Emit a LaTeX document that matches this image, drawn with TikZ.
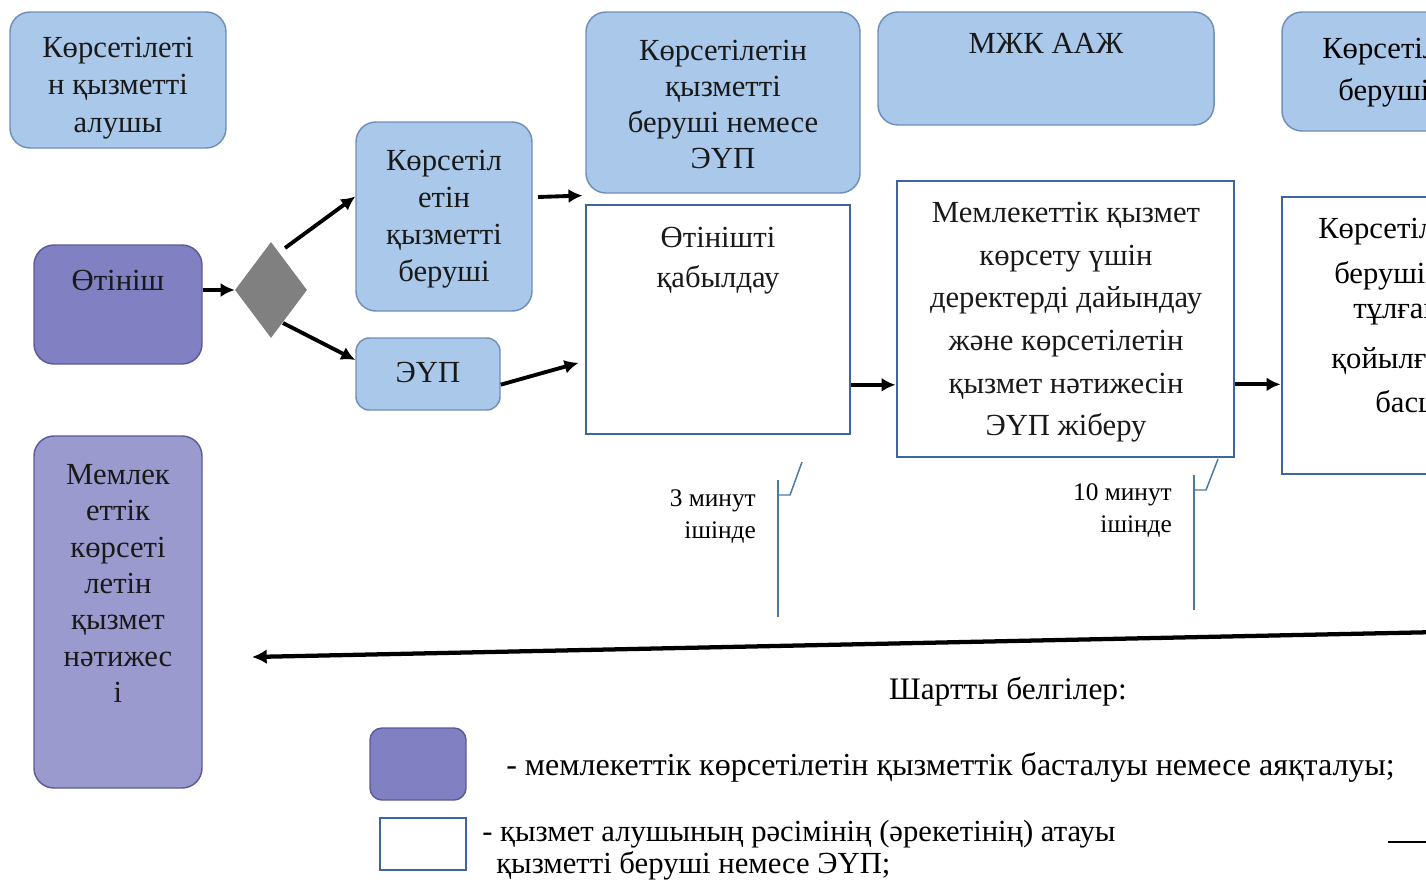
\documentclass[tikz,border=0pt]{standalone}
\usepackage{fontspec}
\setmainfont{Liberation Serif}
\usetikzlibrary{fit,arrows.meta,shapes.geometric}
\definecolor{lanef}{HTML}{A9C8EA}
\definecolor{laneb}{HTML}{6F8FB8}
\definecolor{startf}{HTML}{8080C2}
\definecolor{startb}{HTML}{5B5B9B}
\definecolor{resf}{HTML}{9A9ACE}
\definecolor{stepb}{HTML}{3F65A0}
\definecolor{tl}{HTML}{4A78A8}
\definecolor{dgray}{HTML}{808080}
\begin{document}
\begin{tikzpicture}[x=0.75pt,y=-0.75pt,
  lane/.style={draw=laneb,fill=lanef,line width=1.1pt,rounded corners=15pt,inner sep=0},
  startbox/.style={draw=startb,fill=startf,line width=1.1pt,rounded corners=15pt,inner sep=0},
  resbox/.style={draw=startb,fill=resf,line width=1.1pt,rounded corners=15pt,inner sep=0},
  stepbox/.style={draw=stepb,fill=white,line width=2.2pt,inner sep=0},
  txt/.style={inner sep=0,align=center,anchor=north,text=black!90},
  big/.style={font=\fontsize{23}{28}\selectfont},
  small/.style={font=\fontsize{19}{24}\selectfont},
  arr/.style={line width=2.9pt,-{Latex[length=10.5pt,width=10.5pt]}},
  tline/.style={draw=tl,line width=1.1pt}
]
\useasboundingbox (0,0) rectangle (1426,882);
\clip (0,0) rectangle (1426,882);

% lane headers
\node[lane,fit={(10,12)(226,148)}] (A) {};
\node[txt,big] (At) at (118,37) {Көрсетілеті\\н қызметті\\алушы};
\node[lane,fit={(586,12)(860,193)}] (B) {};
\node[txt,big,font=\fontsize{23}{27}\selectfont] (Bt) at (723,40) {Көрсетілетін\\қызметті\\беруші немесе\\ЭҮП};
\node[lane,fit={(878,12)(1214,125)}] (C) {};
\node[txt,big] (Ct) at (1046,33) {МЖК ААЖ};
\node[lane,fit={(1282,12)(1500,131)}] (D) {};
\node[inner sep=0,anchor=north west,big] (Dt1) at (1322,38) {Көрсетілетін};
\node[inner sep=0,anchor=north west,big] (Dt2) at (1338,78) {беруші};

% start
\node[startbox,fit={(34,245)(202,364)}] (O) {};
\node[txt,big] (Ot) at (118,270) {Өтініш};
\node[diamond,fill=dgray,minimum width=54pt,minimum height=72pt,inner sep=0] (dia) at (271,290) {};

\node[lane,fit={(356,122)(532,311)}] (E) {};
\node[txt,big,font=\fontsize{23}{27.75}\selectfont] (Et) at (444,150) {Көрсетіл\\етін\\қызметті\\беруші};
\node[lane,rounded corners=10pt,fit={(356,338)(500,410)}] (F) {};
\node[txt,big] (Ft) at (428,362) {ЭҮП};

\node[stepbox,fit={(586,205)(850,434)}] (G) {};
\node[txt,big,font=\fontsize{23}{30}\selectfont] (Gt) at (718,227) {Өтінішті\\қабылдау};
\node[stepbox,fit={(897,181)(1234,457)}] (H) {};
\node[txt,big,font=\fontsize{23}{32}\selectfont] (Ht) at (1066,202) {Мемлекеттік қызмет\\көрсету үшін\\деректерді дайындау\\және көрсетілетін\\қызмет нәтижесін\\ЭҮП жіберу};
\node[stepbox,fit={(1282,197)(1500,474)}] (I) {};
\node[inner sep=0,anchor=north west,big] (It1) at (1318,218) {Көрсетілетін};
\node[inner sep=0,anchor=north west,big] (It2) at (1334,261) {беруші};
\node[inner sep=0,anchor=north west,big] (It3) at (1353,304) {тұлғаның};
\node[inner sep=0,anchor=north west,big] (It4) at (1331,347) {қойылған};
\node[inner sep=0,anchor=north west,big] (It5) at (1375,390) {басшысы};

% result
\node[resbox,fit={(34,436)(202,788)}] (R) {};
\node[txt,big,font=\fontsize{23}{27.25}\selectfont] (Rt) at (118,464) {Мемлек\\еттік\\көрсеті\\летін\\қызмет\\нәтижес\\і};

% arrows
\draw[arr] (O.east |- dia.west) -- (dia.west);
\coordinate (d1) at (285,248);
\coordinate (d2) at (283,323);
\draw[arr] (d1) -- ([yshift=15pt]E.west);
\draw[arr] (d2) -- ([yshift=10.5pt]F.west);
\coordinate (e1) at (538,197);
\draw[arr] (e1) -- ([xshift=-1.5pt,yshift=6pt]G.north west);
\draw[arr] ([yshift=-8pt]F.east) -- ([xshift=-4.5pt,yshift=-32.5pt]G.west);
\draw[arr] ([yshift=-49pt]G.east) coordinate (g1) -- (H.west |- g1);
\draw[arr] ([yshift=-49pt]H.east) coordinate (h1) -- (I.west |- h1);
\coordinate (r0) at (1440,632);
\coordinate (r1) at (252,657);
\draw[line width=3.2pt,-{Latex[length=11pt,width=11pt]}] (r0) -- (r1);

% time marks
\coordinate (t1a) at (778,480);
\coordinate (t1b) at (778,617);
\coordinate (t1c) at (790,495);
\coordinate (t1d) at (802,462);
\draw[tline] (t1a) -- (t1b);
\draw[tline] (t1a |- t1c) -- (t1c) -- (t1d);
\node[inner sep=0,align=right,anchor=north east,small] (T1) at (756,489) {3 минут\\ішінде};
\coordinate (t2a) at (1194,475);
\coordinate (t2b) at (1194,610);
\coordinate (t2c) at (1206,490);
\coordinate (t2d) at (1218,459);
\draw[tline] (t2a) -- (t2b);
\draw[tline] (t2a |- t2c) -- (t2c) -- (t2d);
\node[inner sep=0,align=right,anchor=north east,small] (T2) at (1172,483) {10 минут\\ішінде};

% legend
\node[inner sep=0,font=\fontsize{23.5}{28}\selectfont] (Lh) at (1008,692) {Шартты белгілер:};
\node[startbox,rounded corners=9pt,fit={(370,728)(466,800)}] (L1) {};
\node[inner sep=0,anchor=west,font=\fontsize{24}{28}\selectfont] (L1t) at (506,767) {- мемлекеттік көрсетілетін қызметтік басталуы немесе аяқталуы;};
\node[stepbox,fit={(380,818)(466,870)}] (L2) {};
\node[inner sep=0,anchor=west,big] (L2t) at (482,834) {- қызмет алушының рәсімінің (әрекетінің) атауы};
\node[inner sep=0,anchor=west,big] (L2u) at (496,866) {қызметті беруші немесе ЭҮП;};
\coordinate (m1) at (1388,842);
\coordinate (m2) at (1440,842);
\draw[line width=1.6pt] (m1) -- (m2);
\end{tikzpicture}
\end{document}
